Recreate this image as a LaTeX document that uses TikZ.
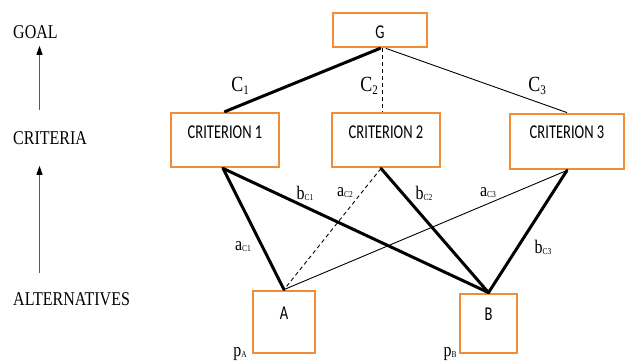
\documentclass[tikz,border=0pt]{standalone}
\usepackage{fontspec}
\usepackage{graphicx}
\setmainfont{Liberation Serif}
\newfontfamily\boxfont{Carlito}
\usetikzlibrary{arrows.meta}
\definecolor{orng}{RGB}{242,140,55}
\newcommand{\lbl}[2]{\scalebox{1}[1.2]{#1\raisebox{-0.8pt}{\fontsize{7.5}{8}\selectfont #2}}}
\newcommand{\clbl}[2]{\scalebox{1}[1.2]{#1\raisebox{-2pt}{\fontsize{11}{11}\selectfont #2}}}
\newcommand{\sidetxt}[1]{\scalebox{1}[1.22]{#1}}
\newcommand{\btxt}[1]{\scalebox{1}[1.35]{#1}}
\begin{document}
\begin{tikzpicture}[x=1pt,y=-1pt,
  box/.style={draw=orng, line width=2.8pt, inner sep=0pt},
  boxtxt/.style={font=\boxfont\fontsize{14.5}{16}\selectfont, inner sep=0pt},
  side/.style={font=\fontsize{16}{18}\selectfont, inner sep=0pt, anchor=west},
  lab/.style={font=\fontsize{16}{18}\selectfont, inner sep=0pt},
  clab/.style={font=\fontsize{18}{20}\selectfont, inner sep=0pt},
  heavy/.style={line width=3pt, line cap=round},
  light/.style={line width=0.9pt},
  dashline/.style={line width=0.9pt, dash pattern=on 4pt off 3pt},
  arr/.style={draw=black!65, line width=1pt, -{Triangle[length=9pt,width=6pt,color=black]}}
]
\useasboundingbox (0,0) rectangle (626,361);

% left labels
\node[side] (goal) at (13,32) {\sidetxt{GOAL}};
\node[side] (crit) at (13,138) {\sidetxt{CRITERIA}};
\node[side] (alt) at (13,299) {\sidetxt{ALTERNATIVES}};
\coordinate (ax) at (39.5,0);
\draw[arr, shorten <=21pt, shorten >=7pt] (crit.north -| ax) -- (goal.south -| ax);
\draw[arr, shorten <=19pt, shorten >=21pt] (alt.north -| ax) -- (crit.south -| ax);

% boxes
\node[box, minimum width=94pt, minimum height=34pt] (g) at (380,30) {};
\node[box, minimum width=108pt, minimum height=54pt] (c1) at (225,140) {};
\node[box, minimum width=108pt, minimum height=54pt] (c2) at (386,140) {};
\node[box, minimum width=114pt, minimum height=55pt] (c3) at (567,141.5) {};
\node[box, minimum width=62pt, minimum height=62pt] (a) at (284,322) {};
\node[box, minimum width=57pt, minimum height=59pt] (b) at (488.5,323.5) {};

\node[boxtxt] (gt) at ([yshift=-2pt]g.center) {\btxt{G}};
\node[boxtxt] (c1t) at ([yshift=-21pt]c1.north) {\btxt{CRITERION 1}};
\node[boxtxt] (c2t) at ([yshift=-21pt]c2.north) {\btxt{CRITERION 2}};
\node[boxtxt] (c3t) at ([yshift=-20pt]c3.north) {\btxt{CRITERION 3}};
\node[boxtxt] (at) at ([yshift=-24pt]a.north) {\btxt{A}};
\node[boxtxt] (bt) at ([yshift=-22pt]b.north) {\btxt{B}};

% connectors
\draw[heavy] (g.south) -- (c1.north);
\draw[dashline] ([xshift=2pt]g.south) -- ([xshift=-4pt]c2.north);
\draw[light] ([xshift=6pt]g.south) -- (c3.north);
\draw[heavy] ([xshift=-2pt]c1.south) -- (a.north);
\draw[heavy] ([xshift=-2pt]c1.south) -- (b.north);
\draw[dashline] ([xshift=-5pt]c2.south) -- (a.north);
\draw[heavy] ([xshift=-5pt]c2.south) -- (b.north);
\draw[light] (c3.south) -- (a.north);
\draw[heavy] (c3.south) -- (b.north);

% labels
\node[clab] (l1) at (240,86) {\clbl{C}{1}};
\node[clab] (l2) at (369,86) {\clbl{C}{2}};
\node[clab] (l3) at (537,86) {\clbl{C}{3}};
\node[lab] (lbc1) at (305,193) {\lbl{b}{C1}};
\node[lab] (lac2) at (345,193) {\lbl{a}{C2}};
\node[lab] (lbc2) at (424,193) {\lbl{b}{C2}};
\node[lab] (lac3) at (488,193) {\lbl{a}{C3}};
\node[lab] (lbc3) at (543,247) {\lbl{b}{C3}};
\node[lab] (lac1) at (243,247) {\lbl{a}{C1}};
\node[lab] (lpa) at (240,354) {\lbl{p}{A}};
\node[lab] (lpb) at (450,354) {\lbl{p}{B}};
\end{tikzpicture}
\end{document}
